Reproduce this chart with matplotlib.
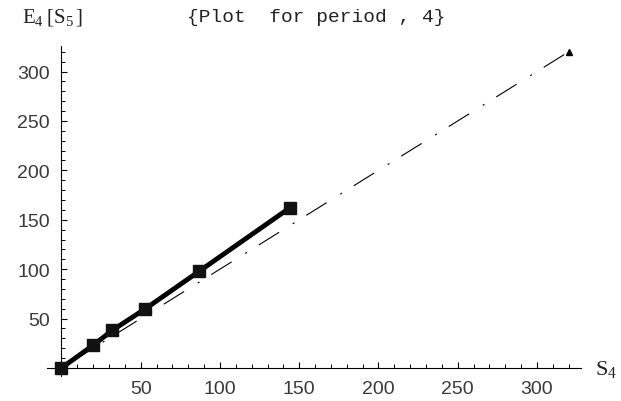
import numpy as np
import matplotlib
matplotlib.use("Agg")
import matplotlib.pyplot as plt

# data
s_vals = [0, 20, 32, 53, 87, 144]
e_vals = [0, 23, 38, 60, 98, 162]
ref_x = [0, 320]
ref_y = [0, 320]

major_ticks = [50, 100, 150, 200, 250, 300]
title_text = "{Plot  for period , 4}"

plt.rcParams['lines.scale_dashes'] = False
plt.rcParams['mathtext.fontset'] = 'custom'
plt.rcParams['mathtext.rm'] = 'Liberation Serif'
plt.rcParams['mathtext.it'] = 'Liberation Serif:italic'

fig = plt.figure(figsize=(6.21, 4.02), dpi=100)
ax = fig.add_axes([0.0760, 0.0625, 0.8602, 0.821])

# reference line, dash-dot, with a small triangle at its end
ax.plot(ref_x, ref_y, color='black', linewidth=0.8,
        linestyle=(34.1, (17.3, 11.5, 1.5, 10.0)), dash_capstyle='butt')
ax.plot(ref_x[-1:], ref_y[-1:], marker='^', markersize=4, color='black', linestyle='none')

# the thick series with squares
ax.plot(s_vals, e_vals, color='black', linewidth=3.5, marker='s',
        markersize=8, markerfacecolor='#111111', markeredgecolor='#111111',
        clip_on=False, zorder=3)

ax.set_xlim(-9, 328)
ax.set_ylim(-8, 326)

for side in ['top', 'right']:
    ax.spines[side].set_visible(False)
ax.spines['left'].set_position(('data', 0))
ax.spines['bottom'].set_position(('data', 0))
ax.spines['left'].set_linewidth(0.8)
ax.spines['bottom'].set_linewidth(0.8)

ax.set_xticks(major_ticks)
ax.set_yticks(major_ticks)
ax.set_xticks(np.arange(10, 330, 10), minor=True)
ax.set_yticks(np.arange(10, 330, 10), minor=True)
ax.tick_params(which='major', direction='in', length=4, width=0.8,
               labelsize=14, labelcolor='#3a3a3a', pad=8.5)
ax.tick_params(which='minor', direction='in', length=3, width=0.7)
for lab in ax.get_xticklabels() + ax.get_yticklabels():
    lab.set_fontfamily('Liberation Sans')

fig.text(316 / 621, 1 - 18 / 402, title_text, ha='center', va='center',
         fontsize=14, family='Liberation Mono', color='#222222')
fig.text(22 / 621, 1 - 17 / 402, r'$\mathrm{E}_4\;[\mathrm{S}_5\,]$', ha='left',
         va='center', fontsize=15, color='#222222')
fig.text(606 / 621, 1 - 370 / 402, r'$\mathrm{S}_4$', ha='center', va='center',
         fontsize=16, color='#222222')

fig.savefig('out.png', dpi=100)
